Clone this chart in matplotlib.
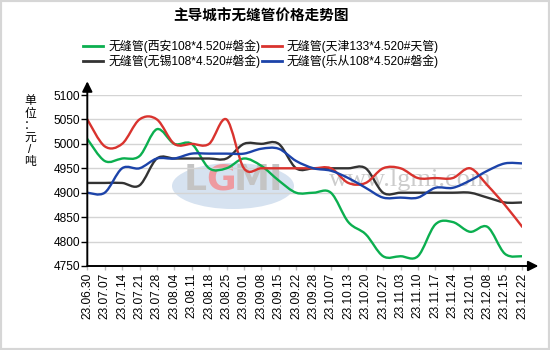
import numpy as np
import matplotlib
matplotlib.use('Agg')
import matplotlib.pyplot as plt
from matplotlib.path import Path
from matplotlib.patches import PathPatch, Ellipse, Rectangle
from matplotlib.lines import Line2D

plt.rcParams['font.family'] = ['Liberation Sans', 'Noto Sans CJK SC', 'DejaVu Sans']

dates = ['23.06.30', '23.07.07', '23.07.14', '23.07.21', '23.07.28', '23.08.04',
         '23.08.11', '23.08.18', '23.08.25', '23.09.01', '23.09.08', '23.09.15',
         '23.09.22', '23.09.28', '23.10.07', '23.10.13', '23.10.20', '23.10.27',
         '23.11.03', '23.11.10', '23.11.17', '23.11.24', '23.12.01', '23.12.08',
         '23.12.15', '23.12.22']

xian = [5010, 4965, 4970, 4975, 5030, 5000, 5000, 4950, 4950, 4970, 4955, 4925, 4900,
        4900, 4900, 4840, 4815, 4770, 4770, 4770, 4835, 4840, 4820, 4830, 4775, 4770]
tianjin = [5050, 4995, 5000, 5050, 5050, 5000, 5000, 5000, 5050, 4950, 4950, 4950, 4950,
           4950, 4950, 4920, 4920, 4950, 4950, 4930, 4930, 4930, 4950, 4915, 4875, 4830]
wuxi = [4920, 4920, 4920, 4915, 4970, 4970, 4970, 4970, 4970, 5000, 5000, 5000, 4950,
        4950, 4950, 4950, 4950, 4900, 4900, 4900, 4900, 4900, 4900, 4890, 4880, 4880]
lecong = [4900, 4900, 4950, 4950, 4970, 4970, 4980, 4980, 4980, 4980, 4990, 4990, 4965,
          4950, 4945, 4930, 4910, 4890, 4890, 4890, 4910, 4910, 4925, 4945, 4960, 4960]

names = ['无缝管(西安108*4.520#磐金)', '无缝管(无锡108*4.520#磐金)',
         '无缝管(天津133*4.520#天管)', '无缝管(乐从108*4.520#磐金)']
series = [xian, wuxi, tianjin, lecong]
colors = ['#0BAF4F', '#333333', '#D9332E', '#1C43A9']


def smooth_path(xs, ys):
    # catmull-rom curve drawn as cubic bezier segments
    pts = np.column_stack([xs, ys]).astype(float)
    ext = np.vstack([pts[0], pts, pts[-1]])
    verts = [pts[0]]
    codes = [Path.MOVETO]
    for i in range(len(pts) - 1):
        p0, p1, p2, p3 = ext[i], ext[i + 1], ext[i + 2], ext[i + 3]
        verts += [p1 + (p2 - p0) / 6, p2 - (p3 - p1) / 6, p2]
        codes += [Path.CURVE4] * 3
    return Path(verts, codes)


W, H = 550, 350
fig = plt.figure(figsize=(W / 100, H / 100), dpi=100)
ax = fig.add_axes([87.3 / W, 84 / H, 435 / W, 171 / H])
ax.set_zorder(2)
ax.set_facecolor('none')

# watermark (behind the axes)
fig.patches.append(Ellipse((233 / W, 1 - 186 / H), 122 / W, 46 / H, transform=fig.transFigure,
                           facecolor='#d6e2f0', edgecolor='none', zorder=0))
wm = dict(fontsize=26, fontweight='bold', va='center', family='DejaVu Sans', zorder=0.5)
fig.text(184 / W, 1 - 180 / H, 'L', color='#c4c4c4', ha='left', **wm)
fig.text(206 / W, 1 - 180 / H, 'G', color='#ee9aa0', ha='left', **wm)
fig.text(234 / W, 1 - 180 / H, 'MI', color='#c4c4c4', ha='left', **wm)
fig.text(410 / W, 1 - 180 / H, 'www.lgmi.com', fontsize=19, color='#cccccc',
         ha='center', va='center', family='Liberation Serif', zorder=0.5)

x = np.arange(len(dates))
for vals, c in zip(series, colors):
    ax.add_patch(PathPatch(smooth_path(x, vals), fill=False, edgecolor=c, lw=1.7,
                           capstyle='round', joinstyle='round', zorder=3))

ax.set_xlim(0, len(dates) - 1)
ax.set_ylim(4750, 5100)
ax.set_yticks(np.arange(4750, 5101, 50))
ax.set_xticks(x)
ax.set_xticklabels(dates, rotation=90, fontsize=8.6)
ax.tick_params(axis='y', labelsize=8.6, length=4, width=1, pad=1, color='black')
ax.tick_params(axis='x', length=3, width=1, pad=2, color='#bbbbbb')
ax.grid(axis='y', color='#d4d4d4', lw=1)
ax.set_axisbelow(True)
for s in ['top', 'right', 'left', 'bottom']:
    ax.spines[s].set_visible(False)

# axes with arrow heads
ax.annotate('', xy=(0, 1.08), xytext=(0, 0), xycoords='axes fraction',
            arrowprops=dict(arrowstyle='-|>,head_length=0.6,head_width=0.3', color='black',
                            lw=1.4, shrinkA=0, shrinkB=0), annotation_clip=False)
ax.annotate('', xy=(1.037, 0), xytext=(0, 0), xycoords='axes fraction',
            arrowprops=dict(arrowstyle='-|>,head_length=0.6,head_width=0.3', color='black',
                            lw=1.4, shrinkA=0, shrinkB=0), annotation_clip=False)

fig.text(261.5 / W, 1 - 17 / H, '主导城市无缝管价格走势图', fontsize=10.5, fontweight='bold',
         ha='center', va='center')

handles = [Line2D([], [], color=c, lw=2) for c in colors]
fig.legend(handles, names, loc='center', bbox_to_anchor=(261 / W, 1 - 54 / H), ncol=2,
           frameon=False, fontsize=8.6, handlelength=1.7, handletextpad=0.4,
           columnspacing=0.1, labelspacing=0.1)

ylab = '单位：元/吨'
ypos = [101, 114, 126, 138, 150, 162]
for ch, yy in zip(ylab, ypos):
    fig.text(30 / W, 1 - yy / H, ch, fontsize=8.5, ha='center', va='center')

fig.patches.append(Rectangle((0, 0), 1, 1, transform=fig.transFigure, fill=False,
                             edgecolor='#d6d6d6', lw=3))

fig.savefig('out.png', dpi=100, facecolor='white')
